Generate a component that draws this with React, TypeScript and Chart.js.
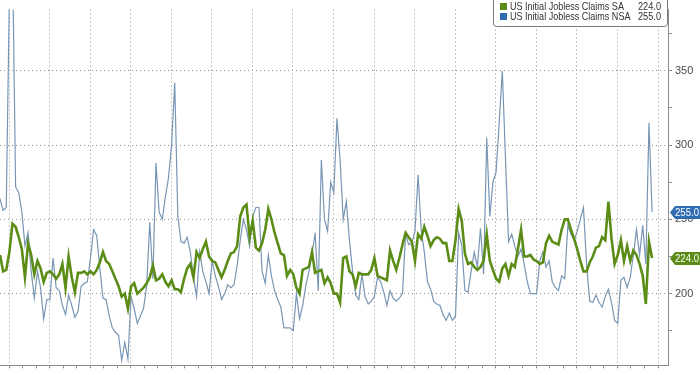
import React, { useEffect, useRef } from 'react';
import { Chart, registerables } from 'chart.js';

Chart.register(...registerables);

// ---- Data ----
const labelSA = 'US Initial Jobless Claims SA';
const labelNSA = 'US Initial Jobless Claims NSA';

// Weekly initial jobless claims (thousands), seasonally adjusted
const claimsSA: number[] = [
  226, 215, 216, 228, 247, 245, 238, 230, 211, 234, 226, 213, 222, 217, 208, 214, 215, 213, 210, 213,
  220, 204, 225, 211, 201, 214, 214, 215, 213, 215, 213, 216, 221, 228, 222, 220, 215, 210,
  205, 198, 200, 190, 205, 207, 200, 202, 204, 207, 211, 219, 209, 210, 213, 208, 205, 209, 203, 203,
  201, 210, 217, 220, 211, 228, 224, 230, 235, 225, 222, 221, 216, 211, 216, 222, 227,
  228, 232, 252, 258, 260, 238, 249, 231, 229, 234, 243, 257, 250, 241, 234, 227, 226, 212, 216, 213,
  204, 200, 216, 217, 218, 228, 214, 215, 216, 207, 211, 207, 200, 200, 194, 224, 225,
  215, 213, 205, 214, 213, 213, 213, 216, 224, 212, 211, 210, 209, 229, 222, 216, 224, 233, 241, 238,
  235, 222, 240, 237, 245, 239, 232, 236, 238, 237, 234, 234, 222, 222, 236, 257, 249,
  227, 220, 221, 218, 216, 218, 222, 240, 222, 216, 210, 208, 217, 220, 212, 220, 218, 230, 243, 225,
  225, 226, 223, 222, 220, 221, 234, 239, 235, 234, 233, 243, 250, 250, 243, 237,
  230, 222, 215, 215, 221, 225, 231, 232, 238, 236, 262, 237, 220, 226, 236, 222, 232, 222, 229, 226,
  220, 212, 193, 235, 224,
];

// Weekly initial jobless claims (thousands), not seasonally adjusted
const claimsNSA: number[] = [
  264, 256, 258, 400, 430, 272, 268, 255, 232, 241, 215, 197, 215, 204, 183, 196, 196, 224, 204, 202,
  192, 186, 199, 192, 184, 188, 205, 207, 208, 224, 243, 239, 217, 197, 196, 185, 177, 174,
  172, 155, 167, 156, 198, 190, 180, 185, 190, 205, 248, 210, 288, 255, 250, 265, 278, 300, 342, 252,
  235, 234, 238, 228, 211, 198, 228, 215, 208, 200, 222, 212, 205, 196, 200, 206, 204,
  206, 219, 236, 250, 243, 232, 252, 258, 258, 215, 207, 226, 212, 202, 196, 191, 177, 177, 177, 175,
  200, 183, 192, 205, 215, 226, 241, 202, 290, 250, 242, 275, 268, 318, 290, 250, 262,
  236, 215, 199, 196, 213, 198, 193, 195, 198, 211, 208, 201, 192, 202, 197, 195, 197, 200, 240, 233,
  234, 242, 280, 243, 228, 208, 203, 195, 193, 192, 186, 182, 187, 182, 185, 241, 232,
  202, 201, 215, 228, 218, 244, 213, 305, 252, 275, 282, 315, 350, 292, 235, 240, 232, 225, 230, 220,
  208, 200, 200, 200, 222, 228, 218, 222, 208, 204, 202, 212, 210, 246, 240, 236,
  242, 250, 258, 220, 195, 194, 199, 194, 191, 198, 203, 194, 182, 180, 209, 211, 204, 211, 226, 243,
  226, 246, 220, 315, 255,
];

const weekIndex: number[] = claimsSA.map((_, i) => i);

const yAxisTicks = [175, 200, 225, 250, 275, 300, 325, 350, 375];
const yAxisLabeledTicks = [200, 250, 300, 350];

// ---- Scale extents / styling ----
const Y_MIN = 151.7;
const Y_MAX = 391.2;
const X_MIN_WEEK = 0;
const X_MAX_WEEK = 214.1;
const FIRST_QUARTER_WEEK = 2.9;
const WEEKS_PER_MONTH = 13 / 3;

const COLOR_SA = '#5b8d16';
const COLOR_NSA_LINE = '#7896b4';
const COLOR_NSA_SWATCH = '#2f6cb0';
const GRID_COLOR = '#8e8e8e';
const AXIS_COLOR = '#8c8c8c';
const TEXT_COLOR = '#4a4a4a';
const GRID_DASH = [1, 3];

const legendBoxPlugin = {
  id: 'legendBox',
  afterDraw(chart: any) {
    const { ctx, chartArea } = chart;
    const right = chartArea.right;
    const left = right - 175;
    ctx.save();
    ctx.beginPath();
    if (ctx.roundRect) ctx.roundRect(left + 0.5, -6.5, right - left - 1, 33, 3);
    else ctx.rect(left + 0.5, -6.5, right - left - 1, 33);
    ctx.fillStyle = '#ffffff';
    ctx.fill();
    ctx.strokeStyle = '#7a7a7a';
    ctx.lineWidth = 1;
    ctx.stroke();
    chart.data.datasets.forEach((ds: any, k: number) => {
      const cy = 6.5 + k * 10;
      const last = ds.data[ds.data.length - 1].y;
      ctx.fillStyle = ds.swatchColor;
      ctx.fillRect(left + 7, cy - 3.5, 7, 7);
      ctx.font = '10.5px "Liberation Sans", Arial, sans-serif';
      ctx.fillStyle = '#333333';
      ctx.textBaseline = 'middle';
      ctx.textAlign = 'left';
      const w = ctx.measureText(ds.label).width;
      ctx.fillText(ds.label, left + 17, cy + 0.5, w * 0.86);
      ctx.textAlign = 'right';
      ctx.fillText(last.toFixed(1), right - 7, cy + 0.5, 23);
    });
    ctx.restore();
  },
};

const valueTagPlugin = {
  id: 'valueTags',
  afterDraw(chart: any) {
    const { ctx, chartArea } = chart;
    const yScale = chart.scales.y;
    ctx.save();
    chart.data.datasets.forEach((ds: any) => {
      const last = ds.data[ds.data.length - 1].y;
      const py = Math.round(yScale.getPixelForValue(last)) + 0.5;
      const h = 13;
      const x0 = chartArea.right + 2;
      const x1 = chart.width + 2;
      ctx.beginPath();
      ctx.moveTo(x0, py);
      ctx.lineTo(x0 + 5, py - h / 2);
      ctx.lineTo(x1, py - h / 2);
      ctx.lineTo(x1, py + h / 2);
      ctx.lineTo(x0 + 5, py + h / 2);
      ctx.closePath();
      ctx.fillStyle = ds.tagColor;
      ctx.fill();
      ctx.font = '10.5px "Liberation Sans", Arial, sans-serif';
      ctx.fillStyle = '#ffffff';
      ctx.textAlign = 'left';
      ctx.textBaseline = 'middle';
      ctx.fillText(last.toFixed(1), x0 + 5, py + 0.5, 24);
    });
    ctx.restore();
  },
};

export default function App() {
  const canvasRef = useRef<HTMLCanvasElement | null>(null);

  useEffect(() => {
    document.body.style.margin = '0';
    const canvas = canvasRef.current;
    if (!canvas) return;
    const chart = new Chart(canvas, {
      type: 'line',
      data: {
        datasets: [
          {
            label: labelSA,
            data: weekIndex.map((w, i) => ({ x: w, y: claimsSA[i] })),
            borderColor: COLOR_SA,
            borderWidth: 2.6,
            pointRadius: 0,
            tension: 0,
            fill: false,
            swatchColor: COLOR_SA,
            tagColor: COLOR_SA,
          } as any,
          {
            label: labelNSA,
            data: weekIndex.map((w, i) => ({ x: w, y: claimsNSA[i] })),
            borderColor: COLOR_NSA_LINE,
            borderWidth: 1.2,
            pointRadius: 0,
            tension: 0,
            fill: false,
            swatchColor: COLOR_NSA_SWATCH,
            tagColor: COLOR_NSA_SWATCH,
          } as any,
        ],
      },
      options: {
        responsive: false,
        maintainAspectRatio: false,
        animation: false,
        layout: { padding: 0 },
        plugins: {
          legend: { display: false },
          tooltip: { enabled: false },
        },
        scales: {
          x: {
            type: 'linear',
            min: X_MIN_WEEK,
            max: X_MAX_WEEK,
            position: 'bottom',
            afterBuildTicks: (scale: any) => {
              const ticks: { value: number }[] = [];
              for (let m = 0; FIRST_QUARTER_WEEK + m * WEEKS_PER_MONTH <= X_MAX_WEEK; m++) {
                ticks.push({ value: FIRST_QUARTER_WEEK + m * WEEKS_PER_MONTH });
              }
              scale.ticks = ticks;
            },
            afterFit: (scale: any) => {
              scale.height = 3;
            },
            ticks: { display: false },
            grid: {
              color: (c: any) => (c.index % 3 === 0 ? GRID_COLOR : 'rgba(0,0,0,0)'),
              tickColor: AXIS_COLOR,
              tickLength: 3,
              drawTicks: true,
              lineWidth: 1,
            },
            border: { display: true, color: AXIS_COLOR, width: 1, dash: GRID_DASH },
          },
          y: {
            type: 'linear',
            position: 'right',
            min: Y_MIN,
            max: Y_MAX,
            afterBuildTicks: (scale: any) => {
              scale.ticks = yAxisTicks.map((v) => ({ value: v }));
            },
            afterFit: (scale: any) => {
              scale.width = 32;
            },
            ticks: {
              padding: 3,
              color: TEXT_COLOR,
              font: { family: '"Liberation Sans", Arial, sans-serif', size: 11 },
              callback: (v: any) => (yAxisLabeledTicks.includes(Number(v)) ? String(v) : ''),
            },
            grid: {
              color: (c: any) =>
                c.tick && yAxisLabeledTicks.includes(c.tick.value) ? GRID_COLOR : 'rgba(0,0,0,0)',
              tickColor: AXIS_COLOR,
              tickLength: 4,
              drawTicks: true,
              lineWidth: 1,
            },
            border: { display: true, color: AXIS_COLOR, width: 1, dash: GRID_DASH },
          },
        },
      },
      plugins: [legendBoxPlugin, valueTagPlugin],
    });
    return () => chart.destroy();
  }, []);

  return (
    <div style={{ position: 'fixed', left: 0, top: 0, width: 700, height: 375, background: '#ffffff' }}>
      <canvas ref={canvasRef} width={700} height={375} style={{ display: 'block' }} />
    </div>
  );
}
